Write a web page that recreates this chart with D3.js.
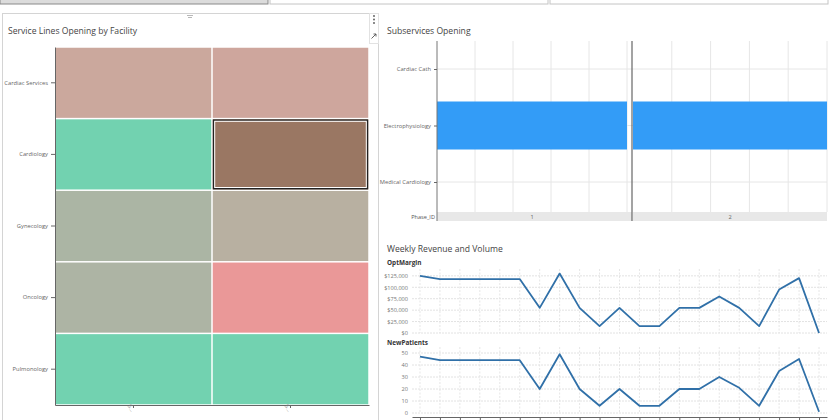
<!DOCTYPE html>
<html><head><meta charset="utf-8">
<script src="https://cdn.jsdelivr.net/npm/d3@7"></script>
<style>body{margin:0;background:#fff;} svg{display:block;font-family:"Open Sans","Noto Sans",sans-serif;}</style>
</head><body><svg id="c" width="840" height="420"></svg>
<script>
// ---------- data ----------
const serviceLines = ["Cardiac Services","Cardiology","Gynecology","Oncology","Pulmonology"];
const facilities = ["Site 1","Site 2"];
const heatValues = [[2.0,2.1],[0,4],[1,1.4],[1.05,3],[0,0]];
const selectedCell = ["Cardiology","Site 2"];
const subservices = ["Cardiac Cath","Electrophysiology","Medical Cardiology"];
const phases = ["1","2"];
const subValues = [[0,0],[1,1],[0,0]];
const weeks = ["W01","W02","W03","W04","W05","W06","W07","W08","W09","W10","W11","W12","W13","W14","W15","W16","W17","W18","W19","W20","W21"];
const optMargin = [125000,118000,118000,118000,118000,118000,55000,130000,55000,15000,55000,15000,15000,55000,55000,80000,55000,15000,95000,120000,0];
const newPatients = [47,44,44,44,44,44,20,49,20,6,20,6,6,20,20,30,21,6,35,45,1];
const optTicks = [0,25000,50000,75000,100000,125000];
const patientTicks = [0,10,20,30,40,50];

const svg = d3.select("#c");

// ---------- page chrome ----------
svg.append("rect").attr("x",0).attr("y",-10).attr("width",268).attr("height",14).attr("fill","#dcdcdc").attr("stroke","#8a8a8a");
svg.append("rect").attr("x",270).attr("y",-10).attr("width",278).attr("height",14).attr("fill","#fff").attr("stroke","#c4c4c4");
svg.append("rect").attr("x",550).attr("y",-10).attr("width",278).attr("height",14).attr("fill","#fff").attr("stroke","#c4c4c4");
svg.append("rect").attr("x",2.5).attr("y",13.5).attr("width",376).attr("height",420).attr("fill","none").attr("stroke","#d4d4d4");
svg.append("rect").attr("x",369.5).attr("y",13.5).attr("width",9).attr("height",30).attr("fill","#fff").attr("stroke","#e2e2e2");
[16,19.5,23].forEach(y=>svg.append("circle").attr("cx",374).attr("cy",y).attr("r",0.9).attr("fill","#555"));
svg.append("path").attr("d","M371.5,38.5 L376,34 M376,34 L376,36.5 M376,34 L373.5,34").attr("stroke","#555").attr("stroke-width",0.9).attr("fill","none");
svg.append("path").attr("d","M187,15.5 H193 M188,17.5 H192").attr("stroke","#999").attr("stroke-width",0.7);

const title = (x,y,t)=>svg.append("text").attr("x",x).attr("y",y).attr("font-size",8.6).attr("fill","#444").text(t);
title(8,34,"Service Lines Opening by Facility");
title(387,34,"Subservices Opening");
title(387,252,"Weekly Revenue and Volume");

// ---------- heatmap ----------
const hx = d3.scaleBand().domain(facilities).range([55,369]);
const hy = d3.scaleBand().domain(serviceLines).range([47,405]);
const hcolor = d3.scaleLinear().domain([0,1,2,3,4]).range(["#72d2b0","#abb5a4","#cba89d","#ea9898","#9a7763"]);
const cells = [];
serviceLines.forEach((s,i)=>facilities.forEach((f,j)=>cells.push({s,f,v:heatValues[i][j]})));
svg.append("g").selectAll("rect").data(cells).join("rect")
  .attr("x",d=>hx(d.f)+0.75).attr("y",d=>hy(d.s)+0.75)
  .attr("width",hx.bandwidth()-1.5).attr("height",hy.bandwidth()-1.5)
  .attr("fill",d=>hcolor(d.v));
svg.append("rect").attr("x",hx(selectedCell[1])+1.5).attr("y",hy(selectedCell[0])+1.5)
  .attr("width",hx.bandwidth()-3).attr("height",hy.bandwidth()-3)
  .attr("fill","none").attr("stroke","#222").attr("stroke-width",1.4);
svg.append("rect").attr("x",hx(selectedCell[1])+2.7).attr("y",hy(selectedCell[0])+2.7)
  .attr("width",hx.bandwidth()-5.4).attr("height",hy.bandwidth()-5.4)
  .attr("fill","none").attr("stroke","#fff").attr("stroke-width",1);
const hyAxis = svg.append("g").attr("transform","translate(55,0)").call(d3.axisLeft(hy).tickSize(4).tickSizeOuter(0));
hyAxis.select(".domain").attr("stroke","#666");
hyAxis.selectAll(".tick line").attr("stroke","#666");
hyAxis.selectAll("text").attr("font-size",5.8).attr("fill","#666").attr("font-family","'Open Sans',sans-serif");
const hxAxis = svg.append("g").attr("transform","translate(0,405)").call(d3.axisBottom(hx).tickSize(3).tickSizeOuter(0));
hxAxis.select(".domain").attr("stroke","#666");
hxAxis.selectAll(".tick line").attr("stroke","#666");
hxAxis.selectAll("text").attr("font-size",5.6).attr("fill","#888").attr("font-family","'Open Sans',sans-serif")
  .text(d=>d.slice(0,1)+"…")
  .attr("text-anchor","start").attr("transform","translate(0,-4) rotate(60)").attr("dy","0.3em").attr("dx","0.2em");

// ---------- subservices ----------
const sy = d3.scalePoint().domain(subservices).range([69,182]);
const barH = 48;
const panels = [{p:"1",x0:437,x1:627},{p:"2",x0:633,x1:827}];
const sg = svg.append("g");
subservices.forEach(s=>sg.append("line").attr("x1",437).attr("x2",827).attr("y1",sy(s)).attr("y2",sy(s)).attr("stroke","#e6e6e6"));
panels.forEach((pn,pi)=>{
  const sx = d3.scaleLinear().domain([0,1]).range([pn.x0,pn.x1]);
  sx.ticks(5).slice(1).forEach(t=>sg.append("line").attr("x1",sx(t)).attr("x2",sx(t)).attr("y1",41).attr("y2",212).attr("stroke","#e6e6e6"));
  sg.selectAll(null).data(subservices.map((s,i)=>({s,v:subValues[i][pi]})).filter(d=>d.v>0)).join("rect")
    .attr("x",sx(0)).attr("y",d=>sy(d.s)-barH/2).attr("width",d=>sx(d.v)-sx(0)).attr("height",barH)
    .attr("fill","#339cf7");
  sg.append("rect").attr("x",pn.x0).attr("y",212).attr("width",pn.x1-pn.x0+(pi===0?5:0)).attr("height",9).attr("fill","#e8e8e8");
  sg.append("text").attr("x",(pn.x0+pn.x1)/2).attr("y",219).attr("text-anchor","middle").attr("font-size",5.6).attr("fill","#666").text(pn.p);
});
sg.append("line").attr("x1",437).attr("x2",437).attr("y1",41).attr("y2",221).attr("stroke","#777");
sg.append("line").attr("x1",632).attr("x2",632).attr("y1",41).attr("y2",221).attr("stroke","#666").attr("stroke-width",1.2);
const syAxis = sg.append("g").attr("transform","translate(437,0)").call(d3.axisLeft(sy).tickSize(3).tickSizeOuter(0));
syAxis.select(".domain").remove();
syAxis.selectAll(".tick line").attr("stroke","#666");
syAxis.selectAll("text").attr("font-size",5.8).attr("fill","#666").attr("font-family","'Open Sans',sans-serif");
sg.append("text").attr("x",435).attr("y",219).attr("text-anchor","end").attr("font-size",5.6).attr("fill","#555").text("Phase_ID");

// ---------- weekly revenue & volume ----------
const lx = d3.scalePoint().domain(weeks).range([412,827]).padding(0.4);
const subplots = [
  {name:"OptMargin", vals:optMargin, ticks:optTicks, dom:[0,140000], range:[333,269], labelY:265, fmt:d3.format("$,")},
  {name:"NewPatients", vals:newPatients, ticks:patientTicks, dom:[0,55], range:[413,347], labelY:345, fmt:d3.format("d")}
];
subplots.forEach(sp=>{
  const y = d3.scaleLinear().domain(sp.dom).range(sp.range);
  const g = svg.append("g");
  g.append("text").attr("x",387).attr("y",sp.labelY).attr("font-size",6.4).attr("font-weight","bold").attr("fill","#333").text(sp.name);
  weeks.forEach(w=>g.append("line").attr("x1",lx(w)).attr("x2",lx(w)).attr("y1",sp.range[1]).attr("y2",sp.range[0]).attr("stroke","#e6e6e6").attr("stroke-dasharray","2,1.5"));
  sp.ticks.forEach(t=>g.append("line").attr("x1",412).attr("x2",827).attr("y1",y(t)).attr("y2",y(t)).attr("stroke","#e2e2e2").attr("stroke-dasharray","2,1"));
  const ya = g.append("g").attr("transform","translate(411,0)").call(d3.axisLeft(y).tickValues(sp.ticks).tickFormat(sp.fmt).tickSize(0).tickPadding(3));
  ya.select(".domain").remove();
  ya.selectAll("text").attr("font-size",5.6).attr("fill","#777").attr("font-family","'Open Sans',sans-serif");
  g.append("path").datum(sp.vals).attr("fill","none").attr("stroke","#3070a8").attr("stroke-width",1.8).attr("stroke-linejoin","round")
    .attr("d",d3.line().x((d,i)=>lx(weeks[i])).y(d=>y(d)));
});
const xa = svg.append("g").attr("transform","translate(0,417)").call(d3.axisBottom(lx).tickSize(3).tickSizeOuter(0).tickFormat(""));
xa.select(".domain").attr("stroke","#666");
xa.selectAll(".tick line").attr("stroke","#666");
</script></body></html>
